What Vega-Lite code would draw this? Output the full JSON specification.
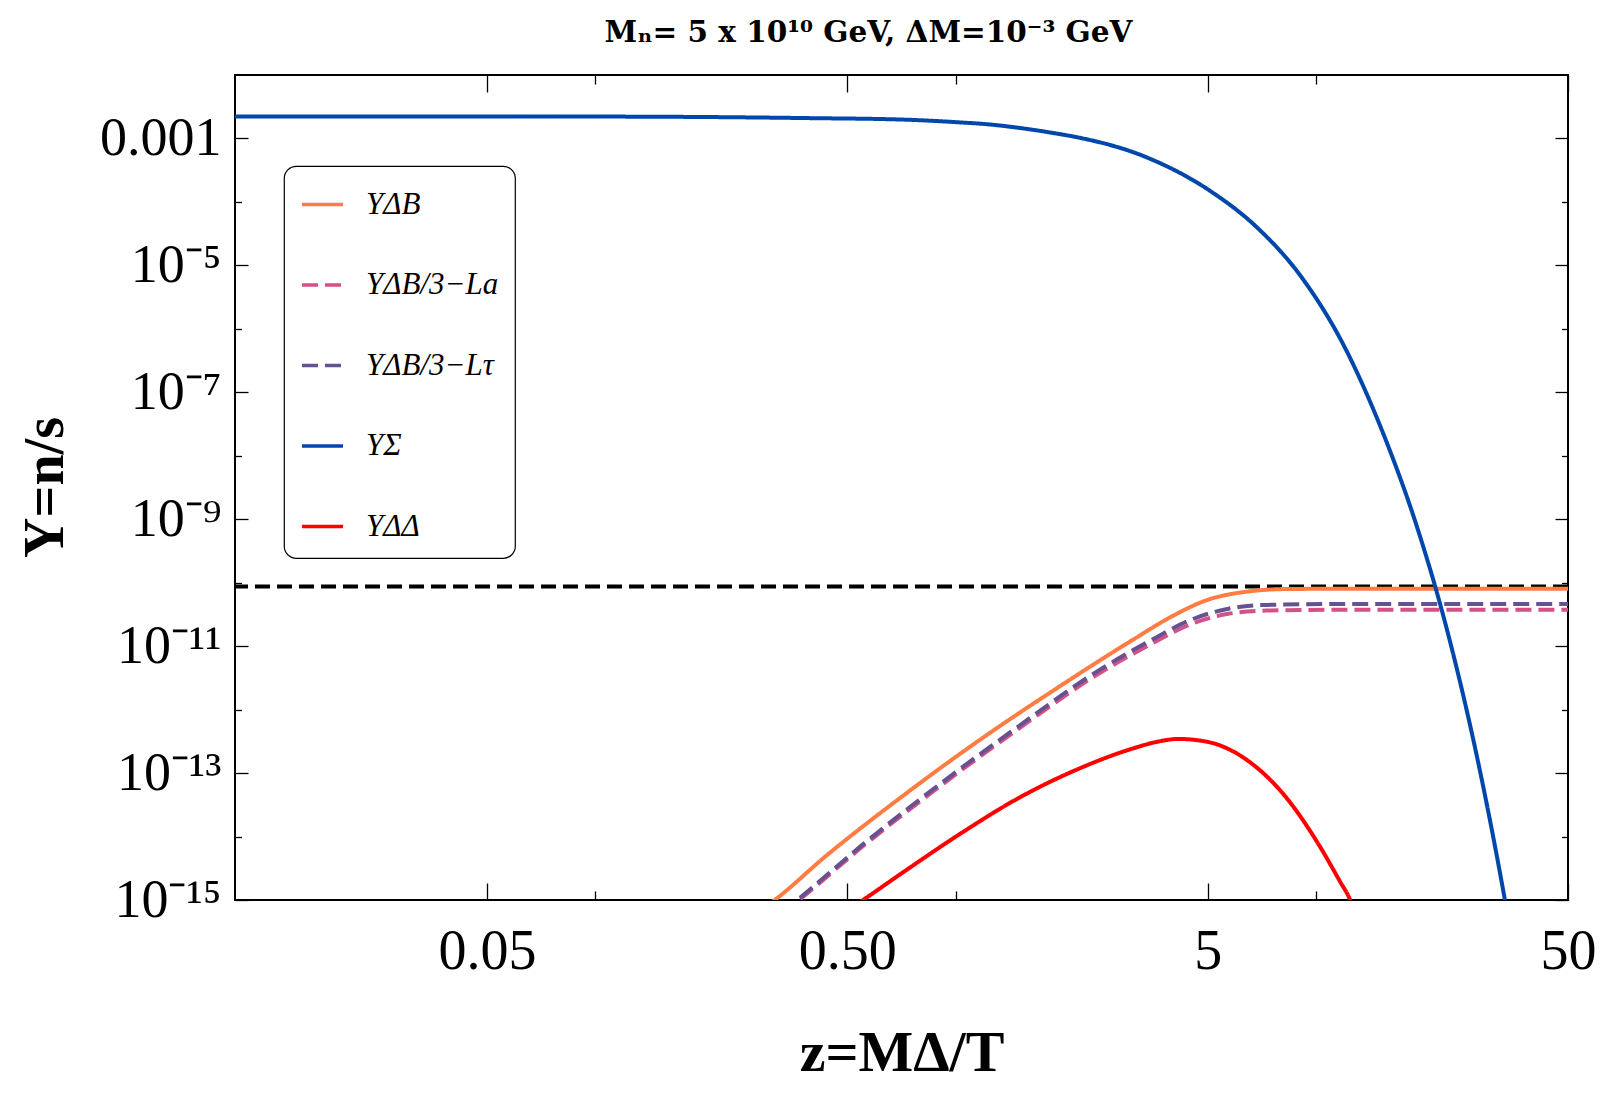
{
  "$schema": "https://vega.github.io/schema/vega-lite/v6.json",
  "width": 1333,
  "height": 825,
  "autosize": {"type": "none"},
  "padding": {"left": 235, "top": 75, "right": 32, "bottom": 196},
  "title": {
    "text": "Mₙ= 5 x 10¹⁰ GeV, ΔM=10⁻³ GeV",
    "font": "DejaVu Serif",
    "fontSize": 29.5,
    "fontWeight": "bold",
    "color": "black",
    "anchor": "middle",
    "baseline": "alphabetic",
    "dx": -33,
    "offset": 3
  },
  "datasets": {
    "curves": [
      {"series": "YΔB", "z": 0.28, "Y": 6.31e-16},
      {"series": "YΔB", "z": 0.311, "Y": 9.55e-16},
      {"series": "YΔB", "z": 0.4377, "Y": 5.01e-15},
      {"series": "YΔB", "z": 0.714, "Y": 4.39e-14},
      {"series": "YΔB", "z": 1.164, "Y": 3.31e-13},
      {"series": "YΔB", "z": 1.9, "Y": 2.14e-12},
      {"series": "YΔB", "z": 3.1, "Y": 1.259e-11},
      {"series": "YΔB", "z": 3.95, "Y": 2.88e-11},
      {"series": "YΔB", "z": 5.0, "Y": 5.37e-11},
      {"series": "YΔB", "z": 6.45, "Y": 7.24e-11},
      {"series": "YΔB", "z": 8.24, "Y": 7.94e-11},
      {"series": "YΔB", "z": 12.4, "Y": 8.04e-11},
      {"series": "YΔB", "z": 50, "Y": 8.04e-11},

      {"series": "YΔB/3−La", "z": 0.33, "Y": 6.2e-16},
      {"series": "YΔB/3−La", "z": 0.36, "Y": 9.12e-16},
      {"series": "YΔB/3−La", "z": 0.559, "Y": 7.41e-15},
      {"series": "YΔB/3−La", "z": 0.911, "Y": 6.4e-14},
      {"series": "YΔB/3−La", "z": 1.487, "Y": 4.9e-13},
      {"series": "YΔB/3−La", "z": 2.42, "Y": 3.31e-12},
      {"series": "YΔB/3−La", "z": 3.5, "Y": 1.096e-11},
      {"series": "YΔB/3−La", "z": 4.47, "Y": 2.19e-11},
      {"series": "YΔB/3−La", "z": 5.71, "Y": 3.24e-11},
      {"series": "YΔB/3−La", "z": 7.29, "Y": 3.63e-11},
      {"series": "YΔB/3−La", "z": 12.4, "Y": 3.76e-11},
      {"series": "YΔB/3−La", "z": 50, "Y": 3.76e-11},

      {"series": "YΔB/3−Lτ", "z": 0.33, "Y": 6.4e-16},
      {"series": "YΔB/3−Lτ", "z": 0.36, "Y": 9.55e-16},
      {"series": "YΔB/3−Lτ", "z": 0.559, "Y": 7.94e-15},
      {"series": "YΔB/3−Lτ", "z": 0.911, "Y": 6.95e-14},
      {"series": "YΔB/3−Lτ", "z": 1.487, "Y": 5.37e-13},
      {"series": "YΔB/3−Lτ", "z": 2.42, "Y": 3.72e-12},
      {"series": "YΔB/3−Lτ", "z": 3.5, "Y": 1.259e-11},
      {"series": "YΔB/3−Lτ", "z": 4.47, "Y": 2.57e-11},
      {"series": "YΔB/3−Lτ", "z": 5.71, "Y": 3.89e-11},
      {"series": "YΔB/3−Lτ", "z": 7.29, "Y": 4.47e-11},
      {"series": "YΔB/3−Lτ", "z": 12.4, "Y": 4.62e-11},
      {"series": "YΔB/3−Lτ", "z": 50, "Y": 4.62e-11},

      {"series": "YΔΔ", "z": 0.5, "Y": 6.9e-16},
      {"series": "YΔΔ", "z": 0.546, "Y": 9.55e-16},
      {"series": "YΔΔ", "z": 0.714, "Y": 2.73e-15},
      {"series": "YΔΔ", "z": 1.03, "Y": 1.109e-14},
      {"series": "YΔΔ", "z": 1.487, "Y": 3.98e-14},
      {"series": "YΔΔ", "z": 2.146, "Y": 1.107e-13},
      {"series": "YΔΔ", "z": 3.1, "Y": 2.44e-13},
      {"series": "YΔΔ", "z": 3.6, "Y": 3.09e-13},
      {"series": "YΔΔ", "z": 4.15, "Y": 3.45e-13},
      {"series": "YΔΔ", "z": 5.0, "Y": 3.1e-13},
      {"series": "YΔΔ", "z": 6.45, "Y": 1.585e-13},
      {"series": "YΔΔ", "z": 8.24, "Y": 4.19e-14},
      {"series": "YΔΔ", "z": 10.0, "Y": 8.71e-15},
      {"series": "YΔΔ", "z": 11.6, "Y": 2.04e-15},
      {"series": "YΔΔ", "z": 12.48, "Y": 9.55e-16},
      {"series": "YΔΔ", "z": 13.0, "Y": 5.0e-16},

      {"series": "YΣ", "z": 0.01, "Y": 2.223e-3},
      {"series": "YΣ", "z": 0.05, "Y": 2.218e-3},
      {"series": "YΣ", "z": 0.1, "Y": 2.213e-3},
      {"series": "YΣ", "z": 0.2, "Y": 2.178e-3},
      {"series": "YΣ", "z": 0.4, "Y": 2.089e-3},
      {"series": "YΣ", "z": 0.7, "Y": 1.99e-3},
      {"series": "YΣ", "z": 0.85, "Y": 1.905e-3},
      {"series": "YΣ", "z": 1.0, "Y": 1.807e-3},
      {"series": "YΣ", "z": 1.24, "Y": 1.663e-3},
      {"series": "YΣ", "z": 1.4, "Y": 1.542e-3},
      {"series": "YΣ", "z": 1.6, "Y": 1.396e-3},
      {"series": "YΣ", "z": 1.9, "Y": 1.197e-3},
      {"series": "YΣ", "z": 2.19, "Y": 1.035e-3},
      {"series": "YΣ", "z": 3.36, "Y": 5.13e-4},
      {"series": "YΣ", "z": 5.16, "Y": 1.406e-4},
      {"series": "YΣ", "z": 6.85, "Y": 3.98e-5},
      {"series": "YΣ", "z": 9.12, "Y": 6.46e-6},
      {"series": "YΣ", "z": 12.13, "Y": 4.57e-7},
      {"series": "YΣ", "z": 14.0, "Y": 7.94e-8},
      {"series": "YΣ", "z": 16.03, "Y": 1.2e-8},
      {"series": "YΣ", "z": 18.6, "Y": 1.15e-9},
      {"series": "YΣ", "z": 20.0, "Y": 3.16e-10},
      {"series": "YΣ", "z": 21.5, "Y": 7.94e-11},
      {"series": "YΣ", "z": 24.0, "Y": 7.59e-12},
      {"series": "YΣ", "z": 27.0, "Y": 4.47e-13},
      {"series": "YΣ", "z": 30.0, "Y": 2.57e-14},
      {"series": "YΣ", "z": 33.0, "Y": 1.48e-15},
      {"series": "YΣ", "z": 34.5, "Y": 3.55e-16}
    ],
    "observed": [{"Y": 8.7e-11}]
  },
  "data": {"name": "curves"},
  "layer": [
    {
      "data": {"name": "observed"},
      "mark": {"type": "rule", "color": "black", "strokeWidth": 4, "strokeDash": [15, 7]},
      "encoding": {
        "y": {
          "field": "Y",
          "type": "quantitative",
          "scale": {"type": "log", "domain": [1e-15, 1e-2], "nice": false},
          "axis": {"orient": "left", "values": [1e-3, 1e-5, 1e-7, 1e-9, 1e-11, 1e-13, 1e-15], "labels": false, "tickSize": -13, "tickWidth": 1.3, "title": null}
        }
      }
    },
    {
      "mark": {"type": "line", "strokeWidth": 4, "clip": true, "interpolate": "monotone"},
      "encoding": {
        "x": {
          "field": "z",
          "type": "quantitative",
          "scale": {"type": "log", "domain": [0.01, 50], "nice": false},
          "axis": {
            "orient": "bottom",
            "values": [0.05, 0.5, 5, 50],
            "labelExpr": "datum.value < 0.1 ? '0.05' : datum.value < 1 ? '0.50' : datum.value < 10 ? '5' : '50'",
            "ticks": false,
            "labelFontSize": 56,
            "labelPadding": 24,
            "labelFlush": false,
            "labelOverlap": false,
            "title": "z=MΔ/T",
            "titleFontSize": 58,
            "titleFontWeight": "bold",
            "titleX": 666.5,
            "titleY": 170.5,
            "titleBaseline": "alphabetic",
            "titleAlign": "center"
          }
        },
        "y": {
          "field": "Y",
          "type": "quantitative",
          "scale": {"type": "log", "domain": [1e-15, 1e-2], "nice": false},
          "axis": {
            "orient": "left",
            "values": [1e-3, 1e-5, 1e-7, 1e-9, 1e-11, 1e-13, 1e-15],
            "labelExpr": "datum.value > 5e-4 ? '0.001' : datum.value > 5e-6 ? '10⁻⁵' : datum.value > 5e-8 ? '10⁻⁷' : datum.value > 5e-10 ? '10⁻⁹' : datum.value > 5e-12 ? '10⁻¹¹' : datum.value > 5e-14 ? '10⁻¹³' : '10⁻¹⁵'",
            "ticks": false,
            "labelFontSize": 54,
            "labelPadding": 14,
            "labelFlush": false,
            "labelOverlap": false,
            "title": "Y=n/s",
            "titleFontSize": 56,
            "titleFontWeight": "bold",
            "titleAngle": -90,
            "titleX": -173,
            "titleY": 412,
            "titleBaseline": "alphabetic",
            "titleAlign": "center"
          }
        },
        "color": {
          "field": "series",
          "type": "nominal",
          "scale": {
            "domain": ["YΔB", "YΔB/3−La", "YΔB/3−Lτ", "YΣ", "YΔΔ"],
            "range": ["#ff7c43", "#d45087", "#665191", "#0047ab", "#ff0000"]
          },
          "legend": {"title": null, "orient": "none", "legendX": 49, "legendY": 91}
        },
        "strokeDash": {
          "field": "series",
          "type": "nominal",
          "scale": {
            "domain": ["YΔB", "YΔB/3−La", "YΔB/3−Lτ", "YΣ", "YΔΔ"],
            "range": [[1, 0], [16, 7], [16, 7], [1, 0], [1, 0]]
          },
          "legend": {"title": null, "orient": "none", "legendX": 49, "legendY": 91}
        }
      }
    },
    {
      "mark": {"type": "point", "opacity": 0},
      "encoding": {
        "x": {
          "field": "z", "type": "quantitative",
          "scale": {"type": "log", "domain": [0.01, 50], "nice": false},
          "axis": {"orient": "bottom", "values": [0.05, 0.5, 5, 50], "labels": false, "tickSize": -17, "tickWidth": 1.3, "title": null}
        },
        "y": {
          "field": "Y", "type": "quantitative",
          "scale": {"type": "log", "domain": [1e-15, 1e-2], "nice": false},
          "axis": {"orient": "left", "values": [1e-4, 1e-6, 1e-8, 1e-10, 1e-12, 1e-14], "labels": false, "tickSize": -6.5, "tickWidth": 1.3, "title": null}
        }
      }
    },
    {
      "mark": {"type": "point", "opacity": 0},
      "encoding": {
        "x": {
          "field": "z", "type": "quantitative",
          "scale": {"type": "log", "domain": [0.01, 50], "nice": false},
          "axis": {"orient": "bottom", "values": [0.1, 1, 10], "labels": false, "tickSize": -9, "tickWidth": 1.3, "title": null}
        },
        "y": {
          "field": "Y", "type": "quantitative",
          "scale": {"type": "log", "domain": [1e-15, 1e-2], "nice": false},
          "axis": {"orient": "right", "values": [1e-3, 1e-5, 1e-7, 1e-9, 1e-11, 1e-13, 1e-15], "labels": false, "tickSize": -13, "tickWidth": 1.3, "title": null}
        }
      }
    },
    {
      "mark": {"type": "point", "opacity": 0},
      "encoding": {
        "x": {
          "field": "z", "type": "quantitative",
          "scale": {"type": "log", "domain": [0.01, 50], "nice": false},
          "axis": {"orient": "top", "values": [0.05, 0.5, 5, 50], "labels": false, "tickSize": -17, "tickWidth": 1.3, "title": null}
        },
        "y": {
          "field": "Y", "type": "quantitative",
          "scale": {"type": "log", "domain": [1e-15, 1e-2], "nice": false},
          "axis": {"orient": "right", "values": [1e-4, 1e-6, 1e-8, 1e-10, 1e-12, 1e-14], "labels": false, "tickSize": -6.5, "tickWidth": 1.3, "title": null}
        }
      }
    },
    {
      "mark": {"type": "point", "opacity": 0},
      "encoding": {
        "x": {
          "field": "z", "type": "quantitative",
          "scale": {"type": "log", "domain": [0.01, 50], "nice": false},
          "axis": {"orient": "top", "values": [0.1, 1, 10], "labels": false, "tickSize": -9, "tickWidth": 1.3, "title": null}
        },
        "y": {
          "field": "Y", "type": "quantitative",
          "scale": {"type": "log", "domain": [1e-15, 1e-2], "nice": false},
          "axis": null
        }
      }
    }
  ],
  "resolve": {"axis": {"x": "independent", "y": "independent"}},
  "config": {
    "font": "Liberation Serif",
    "background": "white",
    "view": {"stroke": "black", "strokeWidth": 2},
    "axis": {
      "grid": false,
      "domain": false,
      "labelColor": "black",
      "tickColor": "black",
      "titleColor": "black",
      "labelFont": "Liberation Serif",
      "titleFont": "Liberation Serif"
    },
    "legend": {
      "strokeColor": "black",
      "strokeWidth": 1.2,
      "cornerRadius": 12,
      "padding": 16,
      "fillColor": "white",
      "labelFont": "Liberation Serif",
      "labelFontSize": 31,
      "labelFontStyle": "italic",
      "labelColor": "black",
      "labelOffset": 21,
      "rowPadding": 42.5,
      "symbolType": "stroke",
      "symbolSize": 1681,
      "symbolStrokeWidth": 3.3
    }
  }
}
